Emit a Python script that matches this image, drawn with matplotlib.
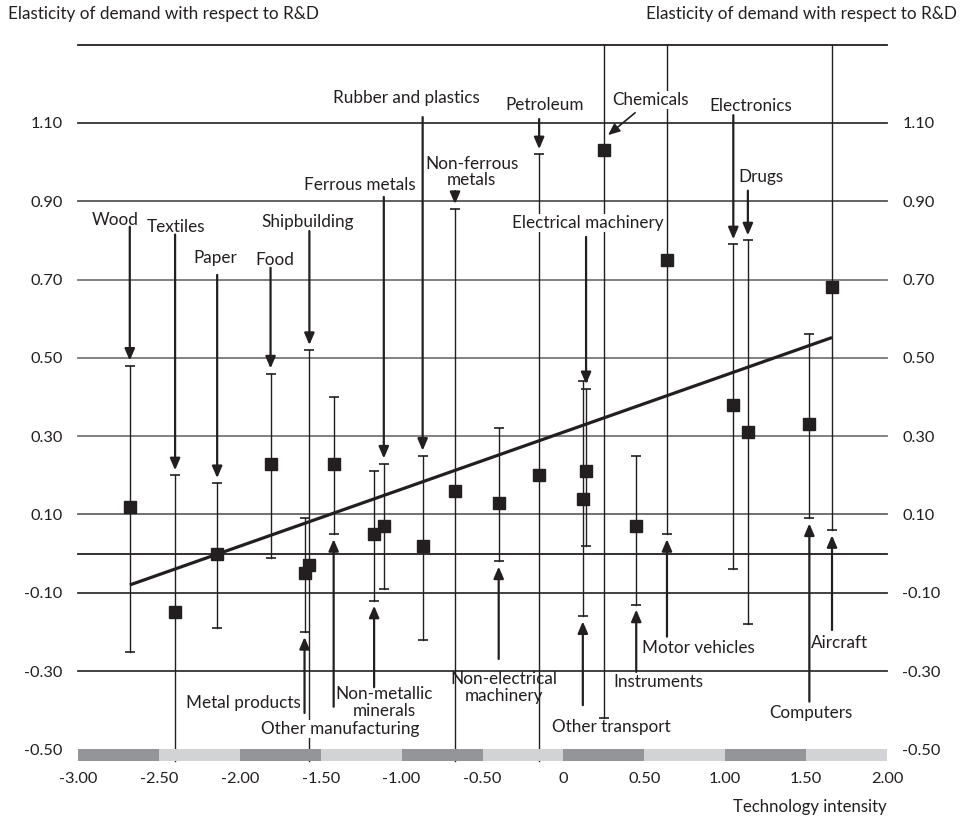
import matplotlib
matplotlib.use('Agg')
import matplotlib.pyplot as plt

plt.rcParams['font.family'] = ['Lato', 'DejaVu Sans']

# industries, technology intensity (x), elasticity (y) and confidence bounds
# None = bound lies outside the plotted range
industries = ['Wood', 'Textiles', 'Paper', 'Food', 'Metal products', 'Shipbuilding',
              'Other manufacturing', 'Non-metallic minerals', 'Ferrous metals',
              'Rubber and plastics', 'Non-ferrous metals', 'Non-electrical machinery',
              'Petroleum', 'Other transport', 'Electrical machinery', 'Chemicals',
              'Instruments', 'Motor vehicles', 'Electronics', 'Drugs', 'Computers',
              'Aircraft']
tech_intensity = [-2.68, -2.40, -2.14, -1.81, -1.60, -1.57, -1.42, -1.17, -1.11,
                  -0.87, -0.67, -0.40, -0.15, 0.12, 0.14, 0.25, 0.45, 0.64, 1.05,
                  1.14, 1.52, 1.66]
elasticity = [0.12, -0.15, 0.00, 0.23, -0.05, -0.03, 0.23, 0.05, 0.07, 0.02, 0.16,
              0.13, 0.20, 0.14, 0.21, 1.03, 0.07, 0.75, 0.38, 0.31, 0.33, 0.68]
lower = [-0.25, None, -0.19, -0.01, -0.20, None, 0.05, -0.12, -0.09, -0.22, None,
         -0.02, None, -0.16, 0.02, -0.42, -0.13, 0.05, -0.04, -0.18, 0.09, 0.06]
upper = [0.48, 0.20, 0.18, 0.46, 0.09, 0.52, 0.40, 0.21, 0.23, 0.25, 0.88, 0.32,
         1.02, 0.44, 0.42, None, 0.25, None, 0.79, 0.80, 0.56, None]

trend_x = [-2.68, 1.66]
trend_y = [-0.08, 0.552]

x_ticks = [-3.0, -2.5, -2.0, -1.5, -1.0, -0.5, 0.0, 0.5, 1.0, 1.5, 2.0]
x_tick_labels = ['-3.00', '-2.50', '-2.00', '-1.50', '-1.00', '-0.50', '0',
                 '0.50', '1.00', '1.50', '2.00']
y_ticks = [-0.5, -0.3, -0.1, 0.1, 0.3, 0.5, 0.7, 0.9, 1.1]
y_tick_labels = ['-0.50', '-0.30', '-0.10', '0.10', '0.30', '0.50', '0.70',
                 '0.90', '1.10']

# label layout: text, text x, text y, arrow tail y, pointing to ('hi'/'lo'), white box
labels = {
    'Wood': ('Wood', -2.771, 0.852, 0.835, 'hi', False),
    'Textiles': ('Textiles', -2.394, 0.834, 0.815, 'hi', False),
    'Paper': ('Paper', -2.153, 0.755, 0.712, 'hi', False),
    'Food': ('Food', -1.784, 0.750, 0.730, 'hi', False),
    'Shipbuilding': ('Shipbuilding', -1.578, 0.847, 0.824, 'hi', False),
    'Ferrous metals': ('Ferrous metals', -1.257, 0.942, 0.911, 'hi', False),
    'Rubber and plastics': ('Rubber and plastics', -0.973, 1.164, 1.115, 'hi', False),
    'Non-ferrous metals': ('Non-ferrous\nmetals', -0.567, 0.975, 0.926, 'hi', False),
    'Petroleum': ('Petroleum', -0.114, 1.146, 1.110, 'hi', False),
    'Electrical machinery': ('Electrical machinery', 0.152, 0.845, 0.809, 'hi', True),
    'Electronics': ('Electronics', 1.159, 1.143, 1.120, 'hi', False),
    'Drugs': ('Drugs', 1.221, 0.962, 0.927, 'hi', False),
    'Metal products': ('Metal products', -1.977, -0.382, -0.407, 'lo', False),
    'Other manufacturing': ('Other manufacturing', -1.378, -0.448, -0.391, 'lo', True),
    'Non-metallic minerals': ('Non-metallic\nminerals', -1.106, -0.380, -0.341, 'lo', False),
    'Non-electrical machinery': ('Non-electrical\nmachinery', -0.370, -0.342, -0.269, 'lo', False),
    'Other transport': ('Other transport', 0.297, -0.442, -0.387, 'lo', False),
    'Instruments': ('Instruments', 0.585, -0.327, -0.302, 'lo', False),
    'Motor vehicles': ('Motor vehicles', 0.832, -0.241, -0.212, 'lo', False),
    'Computers': ('Computers', 1.527, -0.406, -0.378, 'lo', False),
    'Aircraft': ('Aircraft', 1.709, -0.227, -0.195, 'lo', False),
}

INK = '#231f20'
LABEL_SIZE = 12.3
y_min, y_max = -0.53, 1.30

fig = plt.figure(figsize=(9.69, 8.18), dpi=100)
ax = fig.add_axes([0.0805, 0.0695, 0.8349, 0.8759])
ax.set_xlim(-3.0, 2.0)
ax.set_ylim(y_min, y_max)
for s in ax.spines.values():
    s.set_visible(False)

# horizontal rules
for v, c in [(1.30, '#231f20'), (1.10, '#333333'), (0.90, '#555555'),
             (0.70, '#777777'), (0.50, '#777777'), (0.30, '#777777'),
             (0.10, '#666666'), (0.0, '#231f20'), (-0.10, '#333333'),
             (-0.30, '#333333')]:
    ax.axhline(v, color=c, lw=1.3, zorder=1, clip_on=False)

# shaded band along the bottom
band_left = x_ticks[:-1]
band_colors = ['#939598' if i % 2 == 0 else '#d1d3d4' for i in range(len(band_left))]
ax.bar(band_left, 0.03, width=0.5, bottom=y_min, align='edge',
       color=band_colors, zorder=6)

# error bars
for x, y, lo, hi in zip(tech_intensity, elasticity, lower, upper):
    lo_v = y_min if lo is None else lo
    hi_v = y_max if hi is None else hi
    ax.plot([x, x], [lo_v, hi_v], color=INK, lw=1.0, zorder=2, clip_on=False)
    if lo is not None:
        ax.plot(x, lo, marker='_', ms=7, mew=1.2, color=INK, zorder=2)
    if hi is not None:
        ax.plot(x, hi, marker='_', ms=7, mew=1.2, color=INK, zorder=2)

# trend line
ax.plot(trend_x, trend_y, color=INK, lw=2.3, zorder=3, solid_capstyle='butt')

# point estimates
ax.plot(tech_intensity, elasticity, 's', ms=8.6, color=INK, zorder=4)

# labels with pointers
arrow_kw = dict(arrowstyle='-|>,head_length=0.7,head_width=0.3', lw=1.6,
                color=INK, shrinkA=0, shrinkB=0)
for i, name in enumerate(industries):
    if name not in labels:
        continue
    text, tx, ty, tail, end, boxed = labels[name]
    x = tech_intensity[i]
    if end == 'hi':
        tip = upper[i] + 0.013
    else:
        tip = lower[i] - 0.013
    ax.annotate('', xy=(x, tip), xytext=(x, tail), arrowprops=arrow_kw, zorder=5)
    bbox = dict(facecolor='white', edgecolor='none', pad=0.6) if boxed else None
    ax.text(tx, ty, text, ha='center', va='center', fontsize=LABEL_SIZE, color=INK,
            linespacing=1.05, bbox=bbox, zorder=7)

# Chemicals: diagonal pointer to the marker
ax.text(0.541, 1.159, 'Chemicals', ha='center', va='center', fontsize=LABEL_SIZE,
        color=INK, bbox=dict(facecolor='white', edgecolor='none', pad=0.6), zorder=7)
ax.annotate('', xy=(0.276, 1.069), xytext=(0.443, 1.126),
            arrowprops=dict(arrowstyle='-|>,head_length=0.7,head_width=0.3',
                            lw=1.2, color=INK, shrinkA=0, shrinkB=0), zorder=5)

ax.set_xticks(x_ticks)
ax.set_xticklabels(x_tick_labels)
ax.set_yticks(y_ticks)
ax.set_yticklabels(y_tick_labels)
ax.tick_params(axis='both', length=0, labelsize=11.8, colors=INK)
ax.tick_params(axis='y', labelleft=True, labelright=True, pad=11)
ax.tick_params(axis='x', pad=8)

fig.text(0.008, 0.983, 'Elasticity of demand with respect to R&D', ha='left',
         va='center', fontsize=12.3, color=INK)
fig.text(0.9875, 0.983, 'Elasticity of demand with respect to R&D', ha='right',
         va='center', fontsize=12.3, color=INK)
fig.text(0.9154, 0.0138, 'Technology intensity', ha='right', va='center',
         fontsize=12.1, color=INK)

fig.savefig('out.png', dpi=100)
